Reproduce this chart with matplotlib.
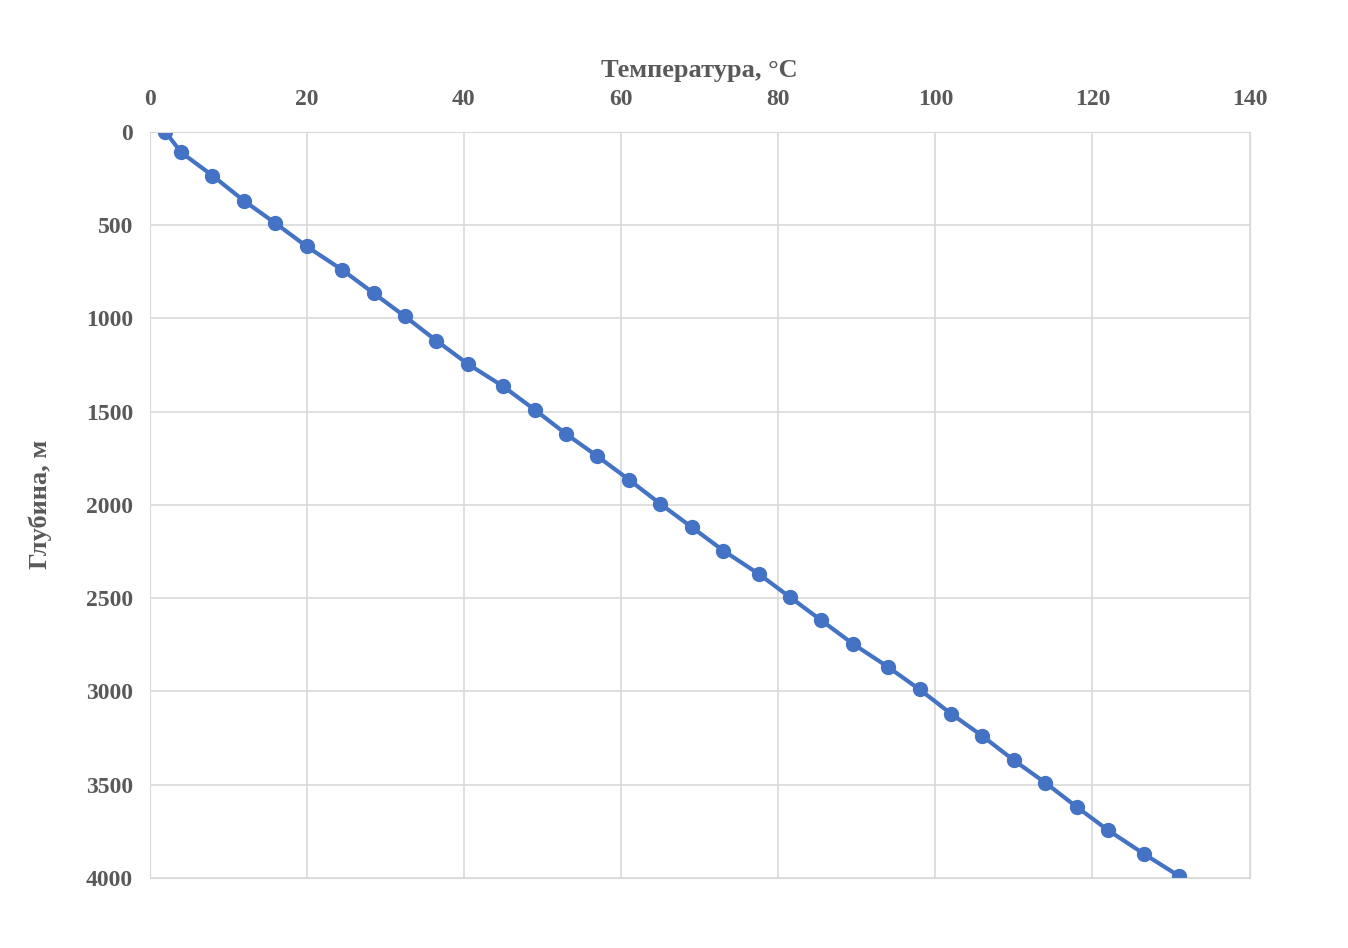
import matplotlib.pyplot as plt

depth = [0, 110, 235, 370, 490, 615, 740, 865, 990, 1120, 1245, 1365, 1490,
         1620, 1740, 1865, 1995, 2120, 2245, 2370, 2495, 2620, 2745, 2870,
         2990, 3120, 3240, 3370, 3490, 3620, 3745, 3870, 3990]
temp = [2, 4, 8, 12, 16, 20, 24.5, 28.5, 32.5, 36.5, 40.5, 45, 49, 53, 57, 61,
        65, 69, 73, 77.5, 81.5, 85.5, 89.5, 94, 98, 102, 106, 110, 114, 118,
        122, 126.5, 131]

plt.rcParams['font.family'] = ['Liberation Serif', 'DejaVu Serif']
fig = plt.figure(figsize=(13.48, 9.48), dpi=100)
ax = fig.add_axes([0.111, 0.074, 0.816, 0.787])

ax.plot(temp, depth, color='#4472c4', lw=3, marker='o', ms=10)
ax.set_xlim(0, 140)
ax.set_ylim(4000, 0)
ax.set_xticks(range(0, 141, 20))
ax.set_yticks(range(0, 4001, 500))
ax.xaxis.tick_top()
ax.xaxis.set_label_position('top')
ax.grid(color='#d9d9d9', lw=1.2)
ax.set_axisbelow(True)
for s in ax.spines.values():
    s.set_color('#d9d9d9')
ax.tick_params(length=0, labelsize=17, colors='#595959', pad=12)
ax.tick_params(axis='x', pad=16)
for lab in ax.get_xticklabels() + ax.get_yticklabels():
    lab.set_fontweight('bold')
ax.set_xlabel('Температура, °C', fontsize=19, fontweight='bold', color='#595959', labelpad=8)
ax.set_ylabel('Глубина, м', fontsize=19, fontweight='bold', color='#595959', labelpad=24)

fig.savefig('out.png')
